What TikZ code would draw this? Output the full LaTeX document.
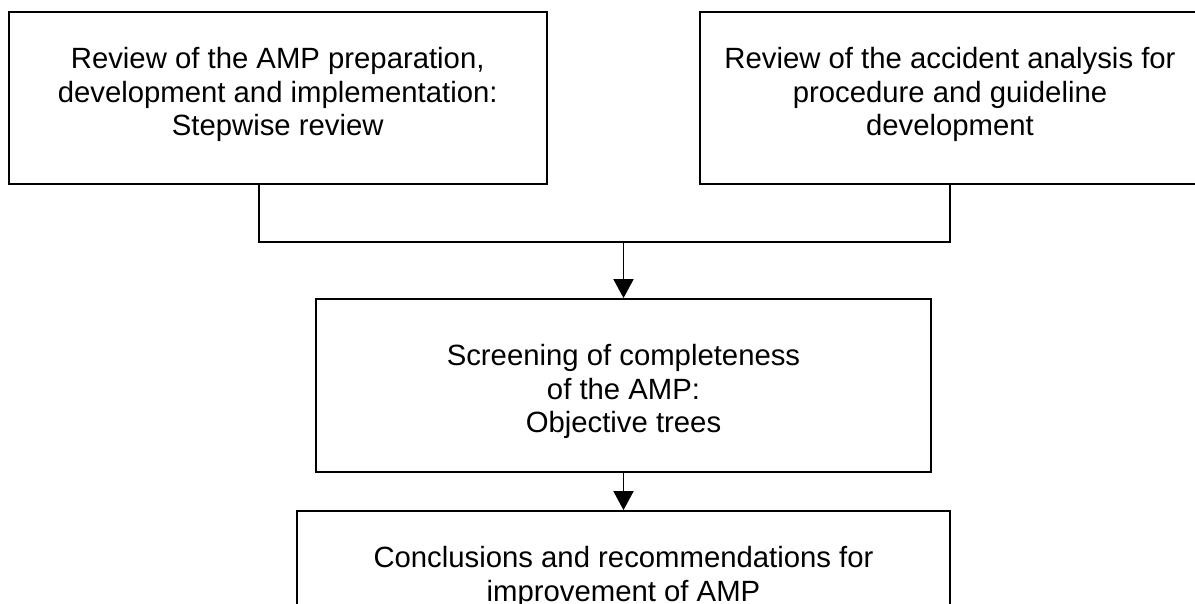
\documentclass[tikz,border=0pt]{standalone}
\usepackage{fontspec}
\setmainfont{Liberation Sans}
\usetikzlibrary{arrows.meta}
\begin{document}
\begin{tikzpicture}[x=1pt,y=1pt,
  box/.style={draw=black, line width=1.8pt, rectangle, inner sep=0pt},
  txt/.style={align=center, inner sep=0pt,
    font=\fontsize{29.3}{33.6}\selectfont},
  link/.style={draw=black, line width=1.8pt},
  flow/.style={link, -{Triangle[width=20pt,length=19pt]}}]
\useasboundingbox (0,0) rectangle (1195,-603);
\clip (0,0) rectangle (1195,-603);

% boxes
\node[box, minimum width=538pt, minimum height=172pt] (b1) at (277.7,-98) {};
\node[box, minimum width=500pt, minimum height=172pt] (b2) at (950,-98) {};
\node[box, minimum width=615pt, minimum height=173pt] (b3) at (623.5,-385.5) {};
\node[box, minimum width=653pt, minimum height=172pt] (b4) at (623.5,-597) {};

% box texts
\node[txt] (t1) at (277.7,-94.5) {Review of the AMP preparation,\\development and implementation:\\Stepwise review};
\node[txt] (t2) at (950,-94.5) {Review of the accident analysis for\\procedure and guideline\\development};
\node[txt] (t3) at (623.5,-391.5) {Screening of completeness\\of the AMP:\\Objective trees};
\node[txt] (t4) at (623.5,-577) {Conclusions and recommendations for\\improvement of AMP};

% joining line and arrows
\coordinate (j1) at (258.7,-242);
\coordinate (j2) at (950,-242);
\coordinate (jm) at (623.5,-242);
\draw[link] (b1.south -| j1) -- (j1) -- (j2) -- (b2.south);
\draw[flow] (jm) -- (b3.north);
\draw[flow] (b3.south) -- (b4.north);
\end{tikzpicture}
\end{document}
